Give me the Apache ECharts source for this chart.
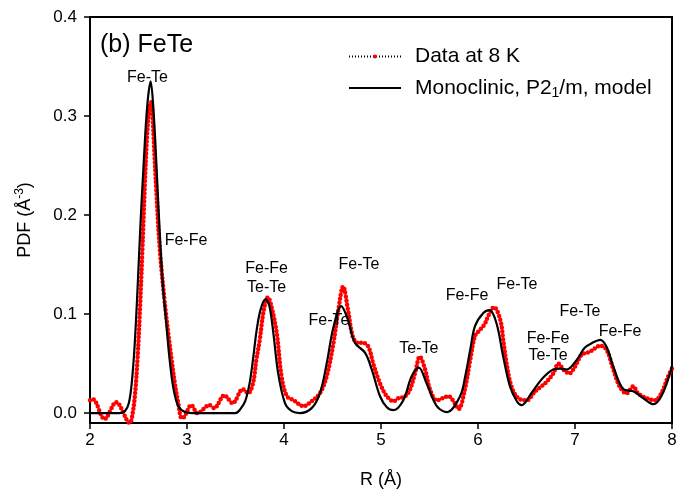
<!DOCTYPE html>
<html>
<head>
<meta charset="utf-8">
<script src="https://cdn.jsdelivr.net/npm/echarts@6/dist/echarts.min.js"></script>
<style>
  html, body { margin: 0; padding: 0; background: #fff; }
  #chart { width: 682px; height: 497px; }
</style>
</head>
<body>
<div id="chart"></div>
<script>
// data at 8 K (R in Å, PDF in Å^-3)
const dataR = [2.00, 2.03, 2.15, 2.27, 2.41, 2.44, 2.465, 2.49, 2.515, 2.54, 2.565, 2.59, 2.615, 2.63,
  2.645, 2.66, 2.685, 2.72, 2.77, 2.81, 2.84, 2.875, 2.91, 2.945, 2.97, 3.045, 3.11, 3.23, 3.28, 3.385,
  3.47, 3.575, 3.63, 3.68, 3.715, 3.75, 3.79, 3.835, 3.87, 3.925, 3.975, 4.03, 4.10, 4.20, 4.285, 4.37,
  4.44, 4.51, 4.56, 4.61, 4.66, 4.71, 4.76, 4.815, 4.87, 4.92, 4.99, 5.06, 5.13, 5.18, 5.25, 5.30,
  5.35, 5.40, 5.455, 5.505, 5.575, 5.695, 5.76, 5.80, 5.865, 5.92, 5.97, 6.02, 6.07, 6.105, 6.165, 6.23,
  6.26, 6.295, 6.345, 6.415, 6.50, 6.59, 6.69, 6.775, 6.83, 6.88, 6.94, 7.00, 7.07, 7.155, 7.26, 7.325,
  7.395, 7.46, 7.53, 7.60, 7.65, 7.74, 7.825, 7.89, 7.96, 8.00];
const dataPDF = [0.013, 0.014, -0.006, 0.011, -0.010, 0.000, 0.020, 0.055, 0.105, 0.165, 0.230, 0.283, 0.311, 0.314,
  0.300, 0.270, 0.222, 0.165, 0.112, 0.078, 0.055, 0.030, 0.010, -0.005, -0.004, 0.008, 0.000, 0.008, 0.005, 0.018,
  0.010, 0.024, 0.020, 0.030, 0.054, 0.074, 0.103, 0.117, 0.108, 0.081, 0.037, 0.017, 0.013, 0.007, 0.012, 0.020,
  0.037, 0.071, 0.104, 0.128, 0.104, 0.077, 0.071, 0.071, 0.067, 0.050, 0.030, 0.017, 0.012, 0.015, 0.017, 0.024,
  0.040, 0.057, 0.044, 0.024, 0.013, 0.017, 0.010, 0.004, 0.024, 0.054, 0.078, 0.084, 0.090, 0.098, 0.107, 0.094,
  0.074, 0.050, 0.027, 0.015, 0.013, 0.022, 0.030, 0.040, 0.050, 0.044, 0.040, 0.047, 0.059, 0.062, 0.068, 0.064,
  0.044, 0.027, 0.020, 0.027, 0.020, 0.015, 0.013, 0.020, 0.037, 0.045];

// monoclinic P2_1/m model
const modelR = [2.00, 2.30, 2.36, 2.40, 2.43, 2.46, 2.49, 2.52, 2.555, 2.59, 2.625, 2.655, 2.69, 2.72, 2.75, 2.785,
  2.82, 2.86, 2.91, 2.98, 3.05, 3.50, 3.55, 3.60, 3.645, 3.68, 3.72, 3.76, 3.81, 3.85, 3.89, 3.94,
  4.01, 4.08, 4.165, 4.285, 4.37, 4.44, 4.51, 4.59, 4.66, 4.73, 4.835, 4.905, 4.99, 5.06, 5.13, 5.23,
  5.315, 5.39, 5.47, 5.575, 5.68, 5.815, 5.87, 5.92, 5.97, 6.055, 6.12, 6.19, 6.26, 6.33, 6.40, 6.45,
  6.55, 6.655, 6.775, 6.85, 6.915, 7.02, 7.10, 7.18, 7.26, 7.325, 7.395, 7.50, 7.60, 7.705, 7.81, 7.89,
  7.98, 8.00];
const modelPDF = [0.000, 0.000, 0.002, 0.010, 0.030, 0.068, 0.125, 0.190, 0.255, 0.310, 0.335, 0.305, 0.240, 0.180, 0.130, 0.092,
  0.055, 0.025, 0.007, 0.001, 0.000, 0.000, 0.004, 0.012, 0.030, 0.054, 0.085, 0.105, 0.115, 0.108, 0.081, 0.040,
  0.010, 0.002, 0.000, 0.005, 0.020, 0.050, 0.087, 0.108, 0.094, 0.071, 0.061, 0.044, 0.017, 0.006, 0.003, 0.013,
  0.037, 0.046, 0.030, 0.007, 0.001, 0.017, 0.038, 0.064, 0.088, 0.101, 0.104, 0.091, 0.057, 0.027, 0.012, 0.008,
  0.020, 0.034, 0.044, 0.045, 0.044, 0.054, 0.066, 0.071, 0.074, 0.067, 0.047, 0.024, 0.022, 0.015, 0.009, 0.017,
  0.040, 0.048];

// peak labels, placed at (R, PDF) of the text centre
const labelText = ['Fe-Te', 'Fe-Fe', 'Fe-Fe', 'Te-Te', 'Fe-Te', 'Fe-Te', 'Te-Te', 'Fe-Fe', 'Fe-Te', 'Fe-Fe', 'Te-Te', 'Fe-Te', 'Fe-Fe'];
const labelR = [2.593, 2.99, 3.82, 3.82, 4.773, 4.464, 5.39, 5.887, 6.402, 6.722, 6.722, 7.052, 7.464];
const labelY = [0.339, 0.174, 0.1456, 0.127, 0.150, 0.0932, 0.065, 0.1185, 0.130, 0.0756, 0.058, 0.1028, 0.0826];

const xTicks = [2, 3, 4, 5, 6, 7, 8];
const yTicks = [0.0, 0.1, 0.2, 0.3, 0.4];

const zip = (a, b) => a.map((v, i) => [v, b[i]]);

const chart = echarts.init(document.getElementById('chart'));

const option = {
  animation: false,
  backgroundColor: '#fff',
  textStyle: { fontFamily: 'Liberation Sans, Arial, sans-serif', color: '#000' },
  grid: { left: 90, right: 10, top: 17, bottom: 74, show: true, borderColor: '#000', borderWidth: 2 },
  legend: {
    orient: 'vertical',
    left: 343,
    top: 41,
    itemWidth: 52,
    itemHeight: 5,
    itemGap: 9,
    data: [
      { name: 'Data at 8 K' },
      { name: 'model', itemStyle: { color: 'rgba(0,0,0,0)', borderWidth: 0 } }
    ],
    formatter: function (name) {
      if (name === 'model') return '{n|Monoclinic, P2}{s|1}{n|/m, model}';
      return '{n|' + name + '}';
    },
    textStyle: {
      color: '#000',
      padding: [0, 0, 0, 9],
      rich: {
        n: { fontSize: 21, color: '#000', lineHeight: 21 },
        s: { fontSize: 14, color: '#000', lineHeight: 14, padding: [10, 0, 0, 0] }
      }
    }
  },
  graphic: [
    { type: 'text', left: 100, top: 33, style: { text: '(b) FeTe', fontSize: 25, fill: '#000', fontFamily: 'Liberation Sans, Arial, sans-serif' } }
  ],
  xAxis: {
    type: 'value',
    min: xTicks[0],
    max: xTicks[xTicks.length - 1],
    interval: 1,
    name: 'R (Å)',
    nameLocation: 'middle',
    nameGap: 48,
    nameTextStyle: { fontSize: 18, color: '#000' },
    axisLine: { onZero: false, lineStyle: { color: '#000', width: 2 } },
    axisTick: { inside: false, length: 6, lineStyle: { color: '#000', width: 1.5 } },
    axisLabel: { fontSize: 17, color: '#000', margin: 9 },
    splitLine: { show: false }
  },
  yAxis: {
    type: 'value',
    min: -0.01,
    max: 0.4,
    name: '{n|PDF (Å}{p|-3}{n|)}',
    nameLocation: 'middle',
    nameGap: 54,
    nameTextStyle: {
      rich: {
        n: { fontSize: 18, color: '#000' },
        p: { fontSize: 12, color: '#000', padding: [0, 0, 10, 0] }
      }
    },
    axisLine: { onZero: false, lineStyle: { color: '#000', width: 2 } },
    axisTick: { inside: false, length: 6, customValues: yTicks, lineStyle: { color: '#000', width: 1.5 } },
    axisLabel: { fontSize: 17, color: '#000', margin: 13, customValues: yTicks, formatter: v => v.toFixed(1) },
    splitLine: { show: false }
  },
  series: [
    {
      name: 'Data at 8 K',
      type: 'line',
      data: zip(dataR, dataPDF),
      smooth: 0.35,
      symbol: 'circle',
      showSymbol: false,
      color: '#ff0000',
      lineStyle: { color: '#000', width: 1, type: [1, 2] },
      z: 2
    },
    {
      name: 'data-dots',
      type: 'line',
      data: zip(dataR, dataPDF),
      smooth: 0.35,
      showSymbol: false,
      color: '#ff0000',
      lineStyle: { color: '#ff0000', width: 4.5, type: [0, 4], cap: 'round' },
      z: 3
    },
    {
      name: 'model',
      type: 'line',
      data: zip(modelR, modelPDF),
      smooth: 0.35,
      symbol: 'circle',
      showSymbol: false,
      color: '#000',
      lineStyle: { color: '#000', width: 2.2 },
      z: 4
    },
    {
      name: 'labels',
      type: 'scatter',
      data: zip(labelR, labelY),
      symbolSize: 0,
      silent: true,
      itemStyle: { opacity: 1 },
      label: {
        show: true,
        position: 'inside',
        fontSize: 16,
        color: '#000',
        opacity: 1,
        textBorderWidth: 0,
        formatter: p => labelText[p.dataIndex]
      },
      z: 5
    }
  ]
};

chart.setOption(option);
</script>
</body>
</html>
